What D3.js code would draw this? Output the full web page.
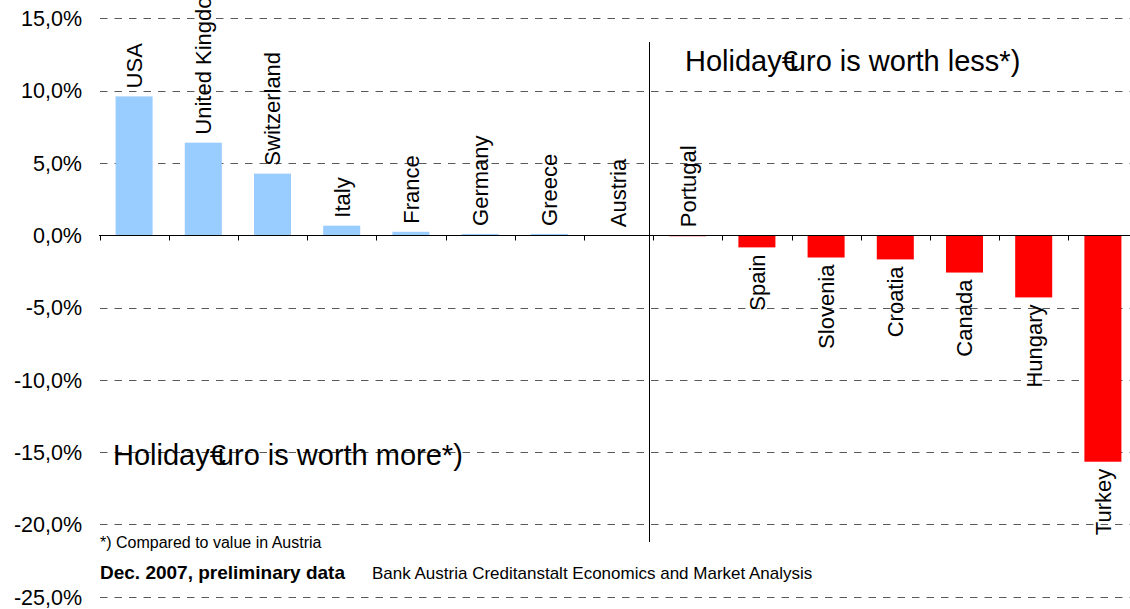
<!DOCTYPE html>
<html>
<head>
<meta charset="utf-8">
<script src="https://cdn.jsdelivr.net/npm/d3@7"></script>
<style>
  body { margin: 0; background: #fff; }
  svg { display: block; font-family: "Liberation Sans", Arial, sans-serif; }
</style>
</head>
<body>
<div id="chart"></div>
<script>
// data (change vs Austria, %)
var countries = ['USA','United Kingdom','Switzerland','Italy','France','Germany','Greece','Austria',
                 'Portugal','Spain','Slovenia','Croatia','Canada','Hungary','Turkey']
var values = [9.6, 6.4, 4.26, 0.66, 0.24, 0.09, 0.09, 0, -0.05, -0.84, -1.54, -1.67, -2.58, -4.3, -15.66]
var yTicks = [15, 10, 5, 0, -5, -10, -15, -20, -25]
var noteText = '*) Compared to value in Austria'
var sourceBold = 'Dec. 2007, preliminary data'
var sourceText = 'Bank Austria Creditanstalt Economics and Market Analysis'

var width = 1130, height = 609

var svg = d3.select('#chart').append('svg').attr('width', width).attr('height', height)

var x = d3.scaleBand().domain(countries).range([99.5, 99.5 + 15 * 69.2])
  .paddingInner(0.465).paddingOuter(0.2325)
var y = d3.scaleLinear().domain([-25, 15]).range([596.8, 18.3])

function pct(v){ return v.toFixed(1).replace('.', ',') + '%' }

// dashed grid lines
svg.append('g').selectAll('line')
  .data(yTicks.filter(function(d){ return d != 0 }))
  .enter().append('line')
  .attr('x1', 100).attr('x2', width)
  .attr('y1', function(d){ return Math.round(y(d)) + 0.5 })
  .attr('y2', function(d){ return Math.round(y(d)) + 0.5 })
  .style('stroke', '#5a5a5a').style('stroke-width', 1)
  .style('stroke-dasharray', '7.5,7')

// y tick labels
svg.append('g').selectAll('text')
  .data(yTicks)
  .enter().append('text')
  .attr('x', 82).attr('y', function(d){ return y(d) })
  .attr('dy', '0.36em')
  .style('text-anchor', 'end').style('font-size', '21.5px').style('fill', '#000')
  .text(pct)

// bars
svg.append('g').selectAll('rect')
  .data(values)
  .enter().append('rect')
  .attr('x', function(d, i){ return x(countries[i]) })
  .attr('width', x.bandwidth())
  .attr('y', function(d){ return y(Math.max(d, 0)) })
  .attr('height', function(d){ return Math.max(Math.abs(y(d) - y(0)), d == 0 ? 0 : 1) })
  .style('fill', function(d){ return d < 0 ? '#FF0000' : '#99CCFF' })

// zero axis + ticks between categories
var y0 = Math.round(y(0)) + 0.5
svg.append('line').attr('x1', 99).attr('x2', width).attr('y1', y0).attr('y2', y0)
  .style('stroke', '#000').style('stroke-width', 1)
var step = x.step()
svg.append('g').selectAll('line')
  .data(d3.range(countries.length + 1))
  .enter().append('line')
  .attr('x1', function(i){ return Math.round(99.5 + i * step) + 0.5 })
  .attr('x2', function(i){ return Math.round(99.5 + i * step) + 0.5 })
  .attr('y1', y0).attr('y2', y0 + 5)
  .style('stroke', '#000')

// category labels, rotated
svg.append('g').selectAll('text')
  .data(values)
  .enter().append('text')
  .attr('transform', function(d, i){
    var cx = x(countries[i]) + x.bandwidth() / 2
    var ty = d <= -0.1 ? y(d) + 7 : y(Math.max(d, 0)) - 8
    return 'translate(' + cx + ',' + ty + ') rotate(-90)'
  })
  .attr('dy', '0.36em')
  .style('text-anchor', function(d){ return d <= -0.1 ? 'end' : 'start' })
  .style('font-size', '22px').style('fill', '#000')
  .text(function(d, i){ return countries[i] })

// divider between "more" and "less"
svg.append('line')
  .attr('x1', 649.5).attr('x2', 649.5).attr('y1', 42).attr('y2', 542)
  .style('stroke', '#000').style('stroke-width', 1)

function holiday(xp, yp, tail){
  var t = svg.append('text').attr('x', xp).attr('y', yp)
    .style('font-size', '29px').style('fill', '#000')
  t.append('tspan').text('Holiday€')
  t.append('tspan').attr('dx', -8).text('uro is worth ' + tail + '*)')
}
holiday(685, 71, 'less')
holiday(113, 465, 'more')

// footnotes
svg.append('text').attr('x', 100).attr('y', 548)
  .style('font-size', '16px').text(noteText)
svg.append('text').attr('x', 100).attr('y', 579)
  .style('font-size', '19px').style('font-weight', 'bold').text(sourceBold)
svg.append('text').attr('x', 372).attr('y', 579)
  .style('font-size', '17px').text(sourceText)
</script>
</body>
</html>
